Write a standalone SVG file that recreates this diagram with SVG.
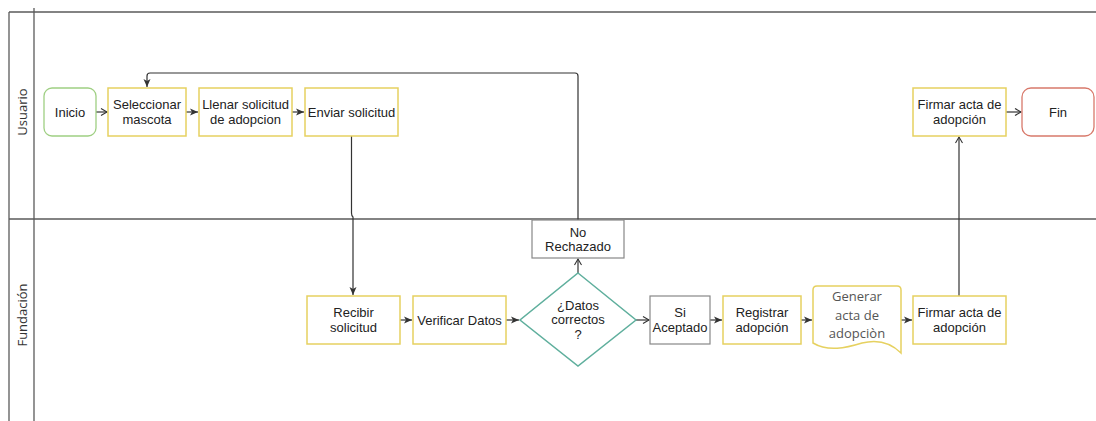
<svg xmlns="http://www.w3.org/2000/svg" width="1096" height="421" viewBox="0 0 1096 421">
<style>
.lane{stroke:#5a5a5a;stroke-width:1.3;fill:none}
.lbl{font-family:"Open Sans","Noto Sans",sans-serif;font-size:13px;fill:#333;text-anchor:middle}
.t{font-family:"Liberation Sans",Arial,sans-serif;font-size:13px;fill:#222;text-anchor:middle}
.t2{font-family:"Open Sans","Noto Sans",sans-serif;font-size:13px;fill:#555;text-anchor:middle}
.y{fill:#fff;stroke:#e6d160;stroke-width:1.5}
.g{fill:#fff;stroke:#888;stroke-width:1.2}
.c{fill:none;stroke:#333;stroke-width:1.2}
</style>
<defs>
<marker id="fa" markerUnits="userSpaceOnUse" markerWidth="10" markerHeight="10" refX="8" refY="4" orient="auto">
<path d="M0,0.5 L8,4 L0,7.5 L2,4 Z" fill="#333"/>
</marker>
<marker id="oa" markerUnits="userSpaceOnUse" markerWidth="10" markerHeight="10" refX="7" refY="4" orient="auto">
<path d="M1,0.5 L7,4 L1,7.5" fill="none" stroke="#333" stroke-width="1.1"/>
</marker>
</defs>
<rect width="1096" height="421" fill="#fff"/>
<g id="lanes">
<line class="lane" x1="9" y1="12" x2="1096" y2="12"/>
<line class="lane" x1="9" y1="219" x2="1096" y2="219"/>
<line class="lane" x1="9" y1="12" x2="9" y2="421"/>
<line class="lane" x1="34" y1="8" x2="34" y2="421"/>
<text class="lbl" transform="translate(27,112) rotate(-90)">Usuario</text>
<text class="lbl" transform="translate(27,315) rotate(-90)">Fundación</text>
</g>
<g id="connectors">
<path class="c" d="M96,112 H107" marker-end="url(#oa)"/>
<path class="c" d="M186,112 H198" marker-end="url(#fa)"/>
<path class="c" d="M292,112 H304" marker-end="url(#fa)"/>
<path class="c" d="M351.5,136 V213 Q351.5,216 353,217 V295" marker-end="url(#fa)"/>
<path class="c" d="M578,220 V76 Q578,73 575,73 H150 Q147,73 147,76 V87" marker-end="url(#fa)"/>
<path class="c" d="M400,320 H412" marker-end="url(#fa)"/>
<path class="c" d="M506,320 H519" marker-end="url(#fa)"/>
<path class="c" d="M578,273 V259" marker-end="url(#oa)"/>
<path class="c" d="M636,320 H649" marker-end="url(#oa)"/>
<path class="c" d="M710,320 H722" marker-end="url(#fa)"/>
<path class="c" d="M801,320 H812" marker-end="url(#fa)"/>
<path class="c" d="M901,320 H912" marker-end="url(#fa)"/>
<path class="c" d="M959,296 V137" marker-end="url(#oa)"/>
<path class="c" d="M1006,112 H1021" marker-end="url(#oa)"/>
</g>
<g id="inicio">
<rect x="44" y="88" width="52" height="48" rx="8" fill="#fff" stroke="#9fcf83" stroke-width="1.3"/>
<text class="t" x="70" y="116.5">Inicio</text>
</g>
<g id="seleccionar">
<rect class="y" x="108" y="88" width="78" height="48"/>
<text class="t" x="147" y="109">Seleccionar</text>
<text class="t" x="147" y="124">mascota</text>
</g>
<g id="llenar">
<rect class="y" x="199" y="88" width="93" height="48"/>
<text class="t" x="245.5" y="109">Llenar solicitud</text>
<text class="t" x="245.5" y="124">de adopcion</text>
</g>
<g id="enviar">
<rect class="y" x="305" y="88" width="93" height="48"/>
<text class="t" x="351.5" y="116.5">Enviar solicitud</text>
</g>
<g id="firmar-usuario">
<rect class="y" x="913" y="88" width="93" height="48"/>
<text class="t" x="959.5" y="109">Firmar acta de</text>
<text class="t" x="959.5" y="124">adopción</text>
</g>
<g id="fin">
<rect x="1022" y="88" width="72" height="48" rx="9" fill="#fff" stroke="#d8796b" stroke-width="1.3"/>
<text class="t" x="1058" y="116.5">Fin</text>
</g>
<g id="recibir">
<rect class="y" x="307" y="296" width="93" height="48"/>
<text class="t" x="353.5" y="316.5">Recibir</text>
<text class="t" x="353.5" y="331.5">solicitud</text>
</g>
<g id="verificar">
<rect class="y" x="413" y="296" width="93" height="48"/>
<text class="t" x="459.5" y="324.5">Verificar Datos</text>
</g>
<g id="decision">
<polygon points="578,273 636,320 578,366 520,320" fill="#fff" stroke="#5faf9d" stroke-width="1.5"/>
<text class="t" x="578" y="309.5">¿Datos</text>
<text class="t" x="578" y="324">correctos</text>
<text class="t" x="578" y="339">?</text>
</g>
<g id="rechazado">
<rect class="g" x="532" y="220" width="92" height="38"/>
<text class="t" x="578" y="236.5">No</text>
<text class="t" x="578" y="251">Rechazado</text>
</g>
<g id="aceptado">
<rect class="g" x="650" y="296" width="60" height="48"/>
<text class="t" x="680" y="316.5">Si</text>
<text class="t" x="680" y="331.5">Aceptado</text>
</g>
<g id="registrar">
<rect class="y" x="723" y="296" width="78" height="48"/>
<text class="t" x="762" y="316.5">Registrar</text>
<text class="t" x="762" y="331.5">adopción</text>
</g>
<g id="generar">
<path class="y" d="M813,290 Q813,286 817,286 H897 Q901,286 901,290 V353 C890,342 878,339 862,343 C846,348 828,352 813,343 Z"/>
<text class="t2" x="857" y="300.5">Generar</text>
<text class="t2" x="857" y="319.5">acta de</text>
<text class="t2" x="857" y="338">adopciòn</text>
</g>
<g id="firmar-fundacion">
<rect class="y" x="913" y="296" width="93" height="48"/>
<text class="t" x="959.5" y="316.5">Firmar acta de</text>
<text class="t" x="959.5" y="331.5">adopción</text>
</g>
</svg>
